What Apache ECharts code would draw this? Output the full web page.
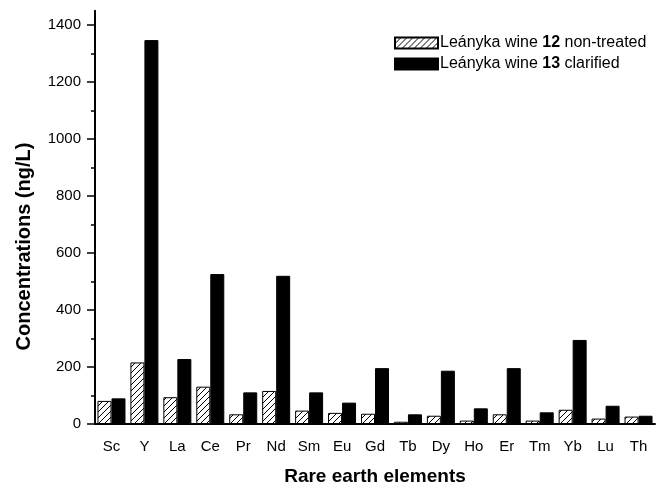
<!DOCTYPE html>
<html>
<head>
<meta charset="utf-8">
<script src="https://cdn.jsdelivr.net/npm/echarts@6/dist/echarts.min.js"></script>
<style>
  html, body { margin: 0; padding: 0; background: #fff; }
  #chart { width: 667px; height: 486px; }
</style>
</head>
<body>
<div id="chart"></div>
<script>
  const elements = ['Sc', 'Y', 'La', 'Ce', 'Pr', 'Nd', 'Sm', 'Eu', 'Gd', 'Tb', 'Dy', 'Ho', 'Er', 'Tm', 'Yb', 'Lu', 'Th'];
  const nonTreated = [81, 216, 94, 131, 34, 116, 47, 39, 36, 8, 29, 12, 34, 12, 50, 19, 26];
  const clarified = [90, 1347, 228, 526, 111, 520, 111, 75, 196, 34, 187, 55, 196, 41, 295, 64, 29];
  const seriesNames = ['Leányka wine 12 non-treated', 'Leányka wine 13 clarified'];
  const yTicks = [0, 200, 400, 600, 800, 1000, 1200, 1400];

  const font = 'Liberation Sans, Arial, sans-serif';
  const chart = echarts.init(document.getElementById('chart'), null, { renderer: 'canvas' });

  // diagonal hatch for the non-treated bars
  function makeHatch() {
    const size = 6;
    const c = document.createElement('canvas');
    c.width = size;
    c.height = size;
    const ctx = c.getContext('2d');
    ctx.fillStyle = '#fff';
    ctx.fillRect(0, 0, size, size);
    ctx.strokeStyle = '#000';
    ctx.lineWidth = 1;
    ctx.beginPath();
    ctx.moveTo(0, size);
    ctx.lineTo(size, 0);
    ctx.moveTo(-1, 1);
    ctx.lineTo(1, -1);
    ctx.moveTo(size - 1, size + 1);
    ctx.lineTo(size + 1, size - 1);
    ctx.stroke();
    return c;
  }
  const hatch = { image: makeHatch(), repeat: 'repeat' };

  // px per unit so that both grids share one scale
  const bottom = 62;
  const zeroY = 486 - bottom;
  const k = 0.285;
  const axisMax = 1450;
  const labelMax = yTicks[yTicks.length - 1];

  const common = { left: 95, right: 12, bottom: bottom, outerBoundsMode: 'none', containLabel: false };

  chart.setOption({
    animation: false,
    textStyle: { fontFamily: font, color: '#000' },
    legend: {
      orient: 'vertical',
      left: 389,
      top: 29,
      itemWidth: 43,
      itemHeight: 11,
      itemGap: 3,
      icon: 'rect',
      textStyle: {
        fontSize: 16,
        lineHeight: 18,
        color: '#000',
        padding: [0, 0, 0, -3],
        rich: {
          n: { fontSize: 16, lineHeight: 18, fontFamily: font, color: '#000' },
          b: { fontSize: 16, lineHeight: 18, fontFamily: font, color: '#000', fontWeight: 'bold' }
        }
      },
      formatter: (name) => {
        const m = name.match(/^(.*wine )(\d+)(.*)$/);
        return m ? `{n|${m[1]}}{b|${m[2]}}{n|${m[3]}}` : name;
      },
      data: seriesNames
    },
    grid: [
      Object.assign({ top: zeroY - axisMax * k }, common),
      Object.assign({ top: zeroY - labelMax * k }, common)
    ],
    xAxis: [
      {
        type: 'category',
        gridIndex: 0,
        data: elements,
        boundaryGap: true,
        axisLine: { lineStyle: { color: '#000', width: 2 } },
        axisTick: { alignWithLabel: true, length: 8, lineStyle: { color: '#000', width: 1.5 } },
        axisLabel: { fontSize: 15, color: '#000', margin: 15, interval: 0 },
        name: 'Rare earth elements',
        nameLocation: 'middle',
        nameGap: 43,
        nameTextStyle: { fontSize: 19, fontWeight: 'bold', color: '#000' }
      },
      {
        type: 'category',
        gridIndex: 0,
        position: 'bottom',
        data: elements,
        boundaryGap: true,
        axisLine: { show: false },
        axisTick: { length: 4, lineStyle: { color: '#000', width: 1.5 } },
        axisLabel: { show: false }
      },
      {
        type: 'category',
        gridIndex: 1,
        data: elements,
        show: false
      }
    ],
    yAxis: [
      {
        type: 'value',
        gridIndex: 0,
        min: 0,
        max: axisMax,
        axisLine: { show: true, lineStyle: { color: '#000', width: 2 } },
        axisTick: { show: false },
        axisLabel: { show: false },
        splitLine: { show: false }
      },
      {
        type: 'value',
        gridIndex: 1,
        min: 0,
        max: labelMax,
        interval: 200,
        axisLine: { show: false },
        axisTick: { show: true, length: 8, lineStyle: { color: '#000', width: 1.5 } },
        minorTick: { show: true, splitNumber: 2, length: 4, lineStyle: { color: '#000', width: 1.5 } },
        axisLabel: { fontSize: 15, color: '#000', margin: 14, formatter: (v) => String(v) },
        splitLine: { show: false },
        name: 'Concentrations (ng/L)',
        nameLocation: 'middle',
        nameGap: 61,
        nameTextStyle: { fontSize: 20, fontWeight: 'bold', color: '#000', padding: [0, 44, 0, 0] }
      }
    ],
    series: [
      {
        name: seriesNames[0],
        type: 'bar',
        xAxisIndex: 0,
        yAxisIndex: 0,
        data: nonTreated,
        barWidth: 14,
        barGap: '0%',
        itemStyle: { color: hatch, borderColor: '#000', borderWidth: 1 }
      },
      {
        name: seriesNames[1],
        type: 'bar',
        xAxisIndex: 0,
        yAxisIndex: 0,
        data: clarified,
        barWidth: 14,
        barGap: '0%',
        itemStyle: { color: '#000', borderColor: '#000', borderWidth: 1 }
      }
    ]
  });
</script>
</body>
</html>
